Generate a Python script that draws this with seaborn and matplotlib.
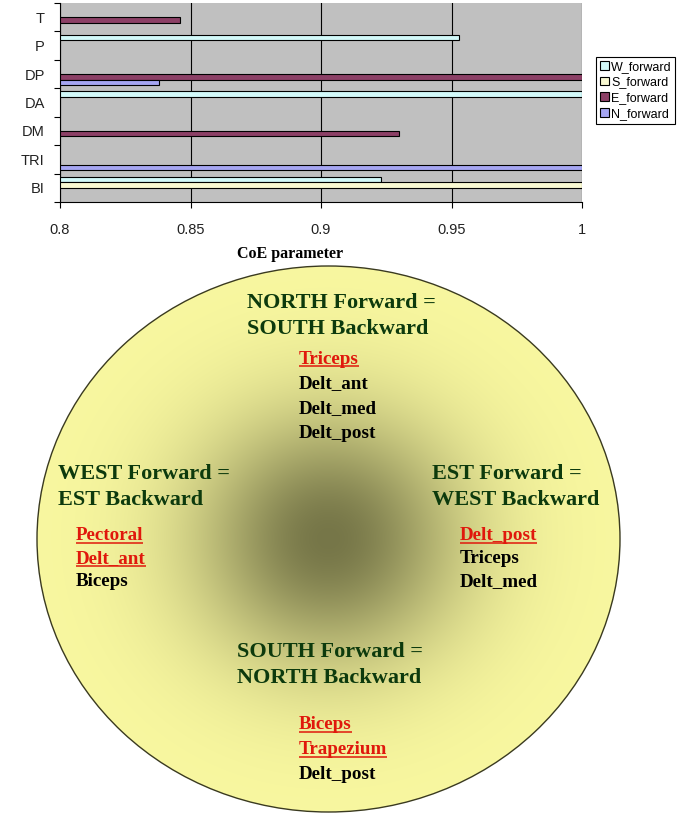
import numpy as np
import pandas as pd
import matplotlib
matplotlib.use("Agg")
import matplotlib.pyplot as plt
import seaborn as sns
from matplotlib.patches import Ellipse

# ---------------- data ----------------
categories = ["T", "P", "DP", "DA", "DM", "TRI", "BI"]
series_names = ["W_forward", "S_forward", "E_forward", "N_forward"]
w_forward = [None, 0.953, None, 1.0, None, None, 0.923]
s_forward = [None, None, None, None, None, None, 1.0]
e_forward = [0.846, None, 1.0, None, 0.930, None, None]
n_forward = [None, None, 0.838, None, None, 1.0, None]
series_colors = ["#CCFFFF", "#FFFFCC", "#993366", "#9999FF"]
xticks = [0.8, 0.85, 0.9, 0.95, 1.0]
xtick_labels = ["0.8", "0.85", "0.9", "0.95", "1"]
x_title = "CoE parameter"

# diagram texts: (header lines, items, highlighted flags)
north_header = ["NORTH Forward =", "SOUTH Backward"]
north_items = ["Triceps", "Delt_ant", "Delt_med", "Delt_post"]
north_hl = [True, False, False, False]
west_header = ["WEST Forward =", "EST Backward"]
west_items = ["Pectoral", "Delt_ant", "Biceps"]
west_hl = [True, True, False]
east_header = ["EST Forward =", "WEST Backward"]
east_items = ["Delt_post", "Triceps", "Delt_med"]
east_hl = [True, False, False]
south_header = ["SOUTH Forward =", "NORTH Backward"]
south_items = ["Biceps", "Trapezium", "Delt_post"]
south_hl = [True, True, False]

rows = []
for name, vals in zip(series_names, [w_forward, s_forward, e_forward, n_forward]):
    for cat, v in zip(categories, vals):
        if v is not None:
            rows.append({"muscle": cat, "series": name, "value": v})
df = pd.DataFrame(rows)

W, H = 691, 813
fig = plt.figure(figsize=(W / 100, H / 100), dpi=100)
fig.patch.set_facecolor("white")

# ---------------- bar chart ----------------
ax = fig.add_axes([60 / W, 1 - 202 / H, 522 / W, 199 / H], zorder=3)
sns.barplot(data=df, x="value", y="muscle", hue="series", order=categories,
            hue_order=series_names, palette=series_colors, orient="h",
            width=0.78, dodge=True, errorbar=None, edgecolor="black",
            linewidth=0.8, ax=ax, legend=True)
ax.set_facecolor("#C0C0C0")
ax.set_xlim(0.8, 1.0)
ax.set_ylim(len(categories) - 0.5, -0.5)
ax.set_xticks(xticks)
ax.set_xticklabels(xtick_labels)
ax.set_yticks(range(len(categories)))
ax.set_yticklabels(categories)
ax.set_yticks(np.arange(-0.5, len(categories), 1.0), minor=True)
ax.tick_params(axis="y", which="major", length=0, pad=11, labelsize=10.5)
ax.tick_params(axis="y", which="minor", length=4, direction="out", width=0.8)
ax.tick_params(axis="x", which="major", length=4, direction="out", width=0.8,
               pad=11, labelsize=10.5)
for lab in ax.get_xticklabels() + ax.get_yticklabels():
    lab.set_fontfamily("Liberation Sans")
    lab.set_color("#222222")
ax.grid(axis="x", color="black", linewidth=0.8)
ax.grid(axis="y", visible=False)
ax.set_axisbelow(True)
for s in ["top", "right"]:
    ax.spines[s].set_visible(False)
for s in ["left", "bottom"]:
    ax.spines[s].set_color("black")
    ax.spines[s].set_linewidth(0.8)
ax.set_ylabel("")
ax.set_xlabel(x_title, fontfamily="Liberation Serif", fontweight="bold",
              fontsize=11.5)
ax.xaxis.set_label_coords(0.44, -0.22)

sns.move_legend(ax, "upper left", bbox_to_anchor=(596 / W, 1 - 57 / H),
                bbox_transform=fig.transFigure, title=None, frameon=True,
                fancybox=False, edgecolor="black", framealpha=1,
                prop={"family": "Liberation Sans", "size": 9},
                handlelength=0.7, handleheight=0.7, handletextpad=0.2,
                labelspacing=0.3, borderpad=0.3, borderaxespad=0)
leg = ax.get_legend()
leg.get_frame().set_linewidth(0.8)
for h in leg.legend_handles:
    h.set_edgecolor("black")
    h.set_linewidth(0.8)

# ---------------- diagram ----------------
bg = fig.add_axes([0, 0, 1, 1], zorder=1)
bg.set_xlim(0, W)
bg.set_ylim(H, 0)
bg.axis("off")

cx, cy, a, b = 328.5, 539, 291.5, 273
x0, x1, y0, y1 = cx - a, cx + a, cy - b, cy + b
xs = np.linspace(x0, x1, 600)
ys = np.linspace(y0, y1, 560)
XX, YY = np.meshgrid(xs, ys)
r = np.sqrt(((XX - cx) / a) ** 2 + ((YY - cy) / b) ** 2)
f = np.exp(-(r / 0.45) ** 2)
edge = np.array([249, 248, 160]) / 255
center = np.array([118, 118, 72]) / 255
img = edge[None, None, :] + (center - edge)[None, None, :] * f[..., None]
im = bg.imshow(img, extent=(x0, x1, y1, y0), origin="upper",
               interpolation="bilinear", zorder=1, aspect="auto")
ell = Ellipse((cx, cy), 2 * a, 2 * b, facecolor="none",
              edgecolor="#3a3a20", linewidth=1.0, zorder=2)
bg.add_patch(ell)
im.set_clip_path(ell)

header_color = "#0d3a0d"
red = "#e0180c"
serif = "Liberation Serif"
underline_targets = []


def block(header, hx, hy, items, hl, ix, iy):
    for txt, y in zip(header, hy):
        bg.text(hx, y, txt, fontfamily=serif, fontweight="bold", fontsize=16,
                color=header_color, va="baseline", ha="left", zorder=5)
    for txt, flag, y in zip(items, hl, iy):
        t = bg.text(ix, y, txt, fontfamily=serif, fontweight="bold",
                    fontsize=13.7, color=red if flag else "black",
                    va="baseline", ha="left", zorder=5)
        if flag:
            underline_targets.append((t, y))


block(north_header, 247, [308, 334], north_items, north_hl, 299,
      [364, 388, 413, 438])
block(west_header, 58, [479, 505], west_items, west_hl, 76, [540, 563, 586])
block(east_header, 432, [479, 505], east_items, east_hl, 460, [540, 563, 586])
block(south_header, 237, [657, 683], south_items, south_hl, 299,
      [729, 754, 779])

fig.canvas.draw()
inv = bg.transData.inverted()
for t, y in underline_targets:
    bb = t.get_window_extent()
    xa = inv.transform((bb.x0, bb.y0))[0]
    xb = inv.transform((bb.x1, bb.y0))[0]
    bg.plot([xa, xb], [y + 2.5, y + 2.5], color=red, linewidth=1.1, zorder=5,
            solid_capstyle="butt")

fig.savefig("out.png", dpi=100)
